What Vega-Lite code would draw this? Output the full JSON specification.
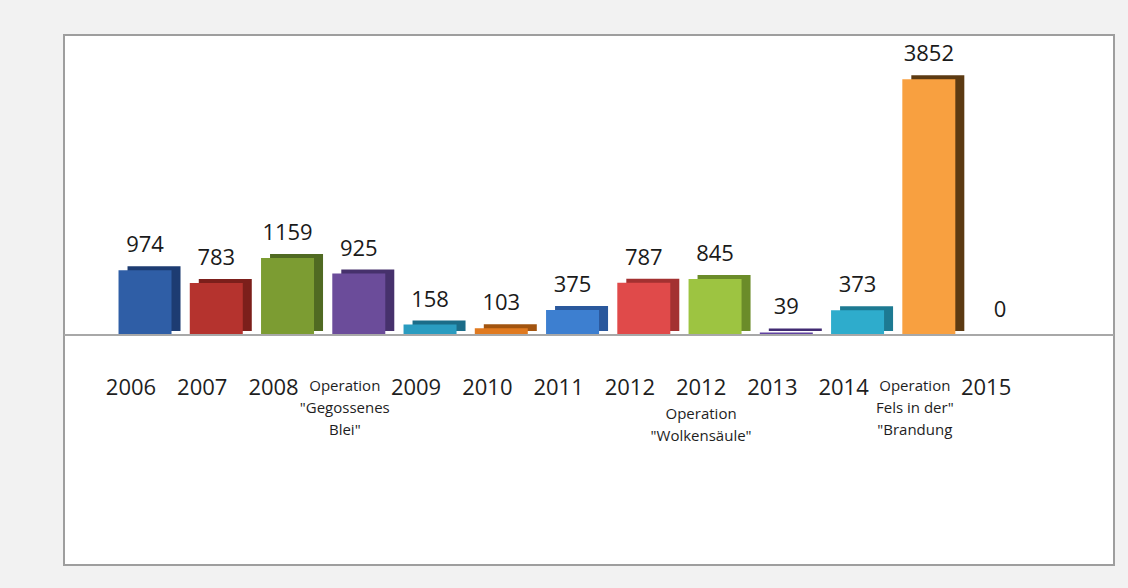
{
  "$schema": "https://vega.github.io/schema/vega-lite/v6.json",
  "width": 1050,
  "height": 530,
  "autosize": "none",
  "padding": {"left": 64, "top": 35, "right": 14, "bottom": 23},
  "background": "#f2f2f2",
  "config": {
    "view": {"fill": "#ffffff", "stroke": "#9e9e9e", "strokeWidth": 2},
    "font": "Open Sans"
  },
  "data": {
    "values": [
      {"key": "2006", "value": 974},
      {"key": "2007", "value": 783},
      {"key": "2008", "value": 1159},
      {"key": "Operation|\"Gegossenes|Blei\"", "value": 925},
      {"key": "2009", "value": 158},
      {"key": "2010", "value": 103},
      {"key": "2011", "value": 375},
      {"key": "2012", "value": 787},
      {"key": "2012|Operation|\"Wolkensäule\"", "value": 845},
      {"key": "2013", "value": 39},
      {"key": "2014", "value": 373},
      {"key": "Operation|Fels in der\"|\"Brandung", "value": 3852},
      {"key": "2015", "value": 0}
    ]
  },
  "resolve": {"axis": {"x": "independent"}, "scale": {"color": "independent"}},
  "layer": [
    {
      "mark": {"type": "bar", "width": 53, "xOffset": 9, "yOffset": -4},
      "encoding": {
        "x": {
          "field": "key", "type": "nominal", "sort": null,
          "scale": {"paddingInner": 0, "paddingOuter": 0.868, "align": 0.367},
          "axis": {
            "orient": "bottom", "title": null, "domain": false, "ticks": false,
            "offset": -190, "labelPadding": 2.5, "labelAngle": 0,
            "labelFontSize": 22, "labelColor": "#1e1e1e", "labelOverlap": false,
            "labelLimit": 0, "labelOffset": -14,
            "labelExpr": "indexof(datum.value, 'Operation') == 0 ? '' : split(datum.value, '|')[0]"
          }
        },
        "y": {"field": "value", "type": "quantitative", "scale": {"domain": [-3464, 4518], "nice": false, "zero": false}, "axis": null},
        "color": {
          "field": "key", "type": "nominal", "legend": null,
          "scale": {
            "domain": ["2006", "2007", "2008", "Operation|\"Gegossenes|Blei\"", "2009", "2010", "2011", "2012", "2012|Operation|\"Wolkensäule\"", "2013", "2014", "Operation|Fels in der\"|\"Brandung", "2015"],
            "range": ["#1d3c72", "#7c1f1b", "#506a22", "#46316c", "#1b6c88", "#a2540f", "#2a589c", "#a33131", "#6b8c29", "#412b72", "#1d7a92", "#5c3a12", "#636f8c"]
          }
        }
      }
    },
    {
      "mark": {"type": "bar", "width": 53},
      "encoding": {
        "x": {
          "field": "key", "type": "nominal", "sort": null,
          "axis": {
            "orient": "bottom", "title": null, "domain": false, "ticks": false,
            "offset": -190, "labelPadding": 3.5, "labelAngle": 0,
            "labelFontSize": 15, "labelLineHeight": 22, "labelColor": "#1e1e1e",
            "labelOverlap": false, "labelLimit": 0, "labelOffset": -14,
            "labelExpr": "indexof(datum.value, 'Operation') == 0 ? split(datum.value, '|') : ''"
          }
        },
        "y": {"field": "value", "type": "quantitative"},
        "color": {
          "field": "key", "type": "nominal", "legend": null,
          "scale": {
            "domain": ["2006", "2007", "2008", "Operation|\"Gegossenes|Blei\"", "2009", "2010", "2011", "2012", "2012|Operation|\"Wolkensäule\"", "2013", "2014", "Operation|Fels in der\"|\"Brandung", "2015"],
            "range": ["#2f5ea6", "#b5332e", "#7c9c32", "#6b4c9a", "#2a9cc0", "#e07a20", "#3d7fd0", "#e04a4a", "#9dc441", "#6042a0", "#2eaccc", "#f8a040", "#8a96b8"]
          }
        }
      }
    },
    {
      "mark": {"type": "text", "fontSize": 22, "baseline": "alphabetic", "dy": -18, "color": "#1a1a1a"},
      "encoding": {
        "x": {
          "field": "key", "type": "nominal", "sort": null,
          "axis": {
            "orient": "bottom", "title": null, "domain": false, "ticks": false,
            "offset": -190, "labelPadding": 31.5, "labelAngle": 0,
            "labelFontSize": 15, "labelLineHeight": 22, "labelColor": "#1e1e1e",
            "labelOverlap": false, "labelLimit": 0, "labelOffset": -14,
            "labelExpr": "indexof(datum.value, '2012|') == 0 ? slice(split(datum.value, '|'), 1) : ''"
          }
        },
        "y": {"field": "value", "type": "quantitative"},
        "text": {"field": "value", "type": "quantitative"}
      }
    },
    {
      "mark": {"type": "rule", "color": "#a8a8a8", "strokeWidth": 2},
      "encoding": {"y": {"datum": 0}}
    }
  ]
}
